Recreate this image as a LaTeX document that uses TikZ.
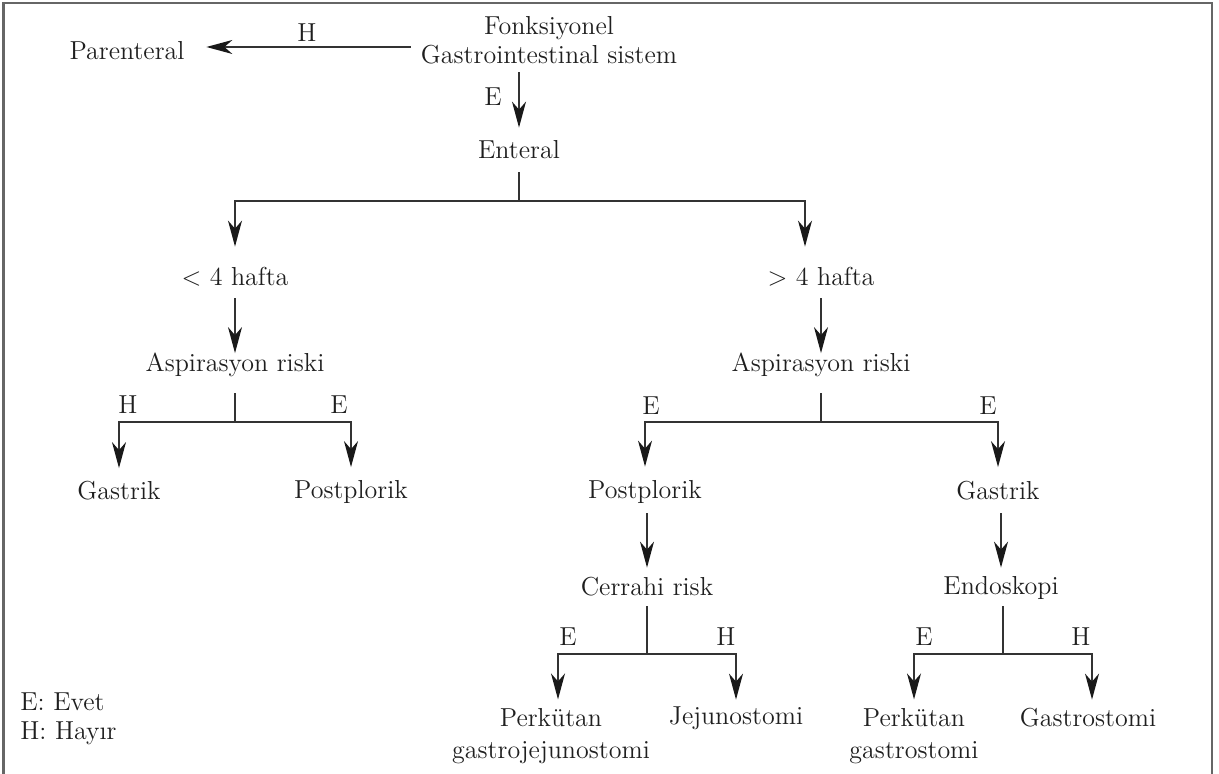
\documentclass[tikz,border=0pt]{standalone}
\usepackage{tikz}
\usetikzlibrary{arrows.meta}

\begin{document}
\begin{tikzpicture}[x=0.5pt,y=-0.5pt,
  font=\fontsize{13}{14.5}\selectfont,
  txt/.style={inner sep=0pt,text=black!88,text height=9pt,text depth=2.5pt},
  two/.style={inner sep=0pt,text=black!88,align=center},
  lbl/.style={inner sep=0pt,text=black!88},
  ln/.style={line width=0.75pt,draw=black!80},
  arr/.style={ln,-{Stealth[length=13pt,width=7pt,inset=4pt,color=black!90]}}]
\useasboundingbox (0,0) rectangle (1219,774);
\draw[line width=1.25pt,draw=black!60] (3.5,3) rectangle (1212,780);

\node[two] (fonk) at (549,40.5) {Fonksiyonel\\Gastrointestinal sistem};
\node[txt] (par) at (127,53) {Parenteral};
\node[txt] (ent) at (519,152) {Enteral};
\node[txt] (lt) at (235,279) {< 4 hafta};
\node[txt] (gt) at (821,279) {> 4 hafta};
\node[txt] (asp1) at (235,365) {Aspirasyon riski};
\node[txt] (asp2) at (821,365) {Aspirasyon riski};
\node[txt] (gas1) at (119,493) {Gastrik};
\node[txt] (post1) at (351,492) {Postplorik};
\node[txt] (post2) at (645,492) {Postplorik};
\node[txt] (gas2) at (998,493) {Gastrik};
\node[txt] (cer) at (647,589) {Cerrahi risk};
\node[txt] (endo) at (1001,588) {Endoskopi};
\node[two,font=\fontsize{13}{16}\selectfont] (perk1) at (551,736.5) {Perkütan\\gastrojejunostomi};
\node[txt] (jej) at (736,718) {Jejunostomi};
\node[two,font=\fontsize{13}{16}\selectfont] (perk2) at (914,736.5) {Perkütan\\gastrostomi};
\node[txt] (gastro) at (1088,720) {Gastrostomi};
\node[two,align=left,anchor=west] (leg) at (20,718.5) {E: Evet\\H: Hayır};

% branch points
\coordinate (s1) at (519,201);
\coordinate (s2) at (235,422);
\coordinate (s3) at (821,422);
\coordinate (s4) at (647,654);
\coordinate (s5) at (1003,654);

% top
\draw[arr,shorten <=5pt,shorten >=10.75pt] ([yshift=-3.25pt]fonk.west) -- ([yshift=3pt]par.east);
\node[lbl] (lH0) at (307,33) {H};
\draw[arr,shorten <=3.75pt,shorten >=6.25pt] (fonk.south -| ent) -- (ent);
\node[lbl] (lE0) at (493,97) {E};

\draw[ln,shorten <=4.25pt] (ent) -- (s1);
\draw[arr,shorten >=10.25pt] (s1) -| (lt);
\draw[arr,shorten >=10.25pt] (s1) -| ([xshift=-8pt]gt.north);

% < 4 hafta
\draw[arr,shorten <=3.75pt] (lt) -- (asp1);
\draw[ln,shorten <=8.25pt] (asp1) -- (s2);
\draw[arr,shorten >=6.5pt] (s2) -| (gas1);
\draw[arr,shorten >=6.5pt] (s2) -| (post1);
\node[lbl] (lH1) at (128,405) {H};
\node[lbl] (lE1) at (339,405) {E};

% > 4 hafta
\draw[arr,shorten <=3.75pt] (gt) -- (asp2);
\draw[ln,shorten <=8.25pt] (asp2) -- (s3);
\draw[arr,shorten >=6.75pt] (s3) -| (post2);
\draw[arr,shorten >=7pt] (s3) -| (gas2);
\node[lbl] (lE2) at (651,405.5) {E};
\node[lbl] (lE3) at (988,405.5) {E};

\draw[arr,shorten <=4.75pt,shorten >=4.75pt] (post2.south -| cer) -- (cer);
\draw[arr,shorten <=4.25pt,shorten >=4.25pt] (gas2.south -| endo) -- (endo);

\draw[ln,shorten <=2.75pt] (cer) -- (s4);
\draw[arr,shorten >=4.5pt] (s4) -| ([xshift=3.5pt]perk1.north);
\draw[arr,shorten >=3.25pt] (s4) -| (jej);
\node[lbl] (lE4) at (568,637) {E};
\node[lbl] (lH4) at (726,637) {H};

\draw[ln,shorten <=3.25pt] (endo.south -| s5) -- (s5);
\draw[arr,shorten >=4.5pt] (s5) -| (perk2);
\draw[arr,shorten >=4.25pt] (s5) -| ([xshift=2pt]gastro.north);
\node[lbl] (lE5) at (924,637) {E};
\node[lbl] (lH5) at (1081,637) {H};
\end{tikzpicture}
\end{document}
